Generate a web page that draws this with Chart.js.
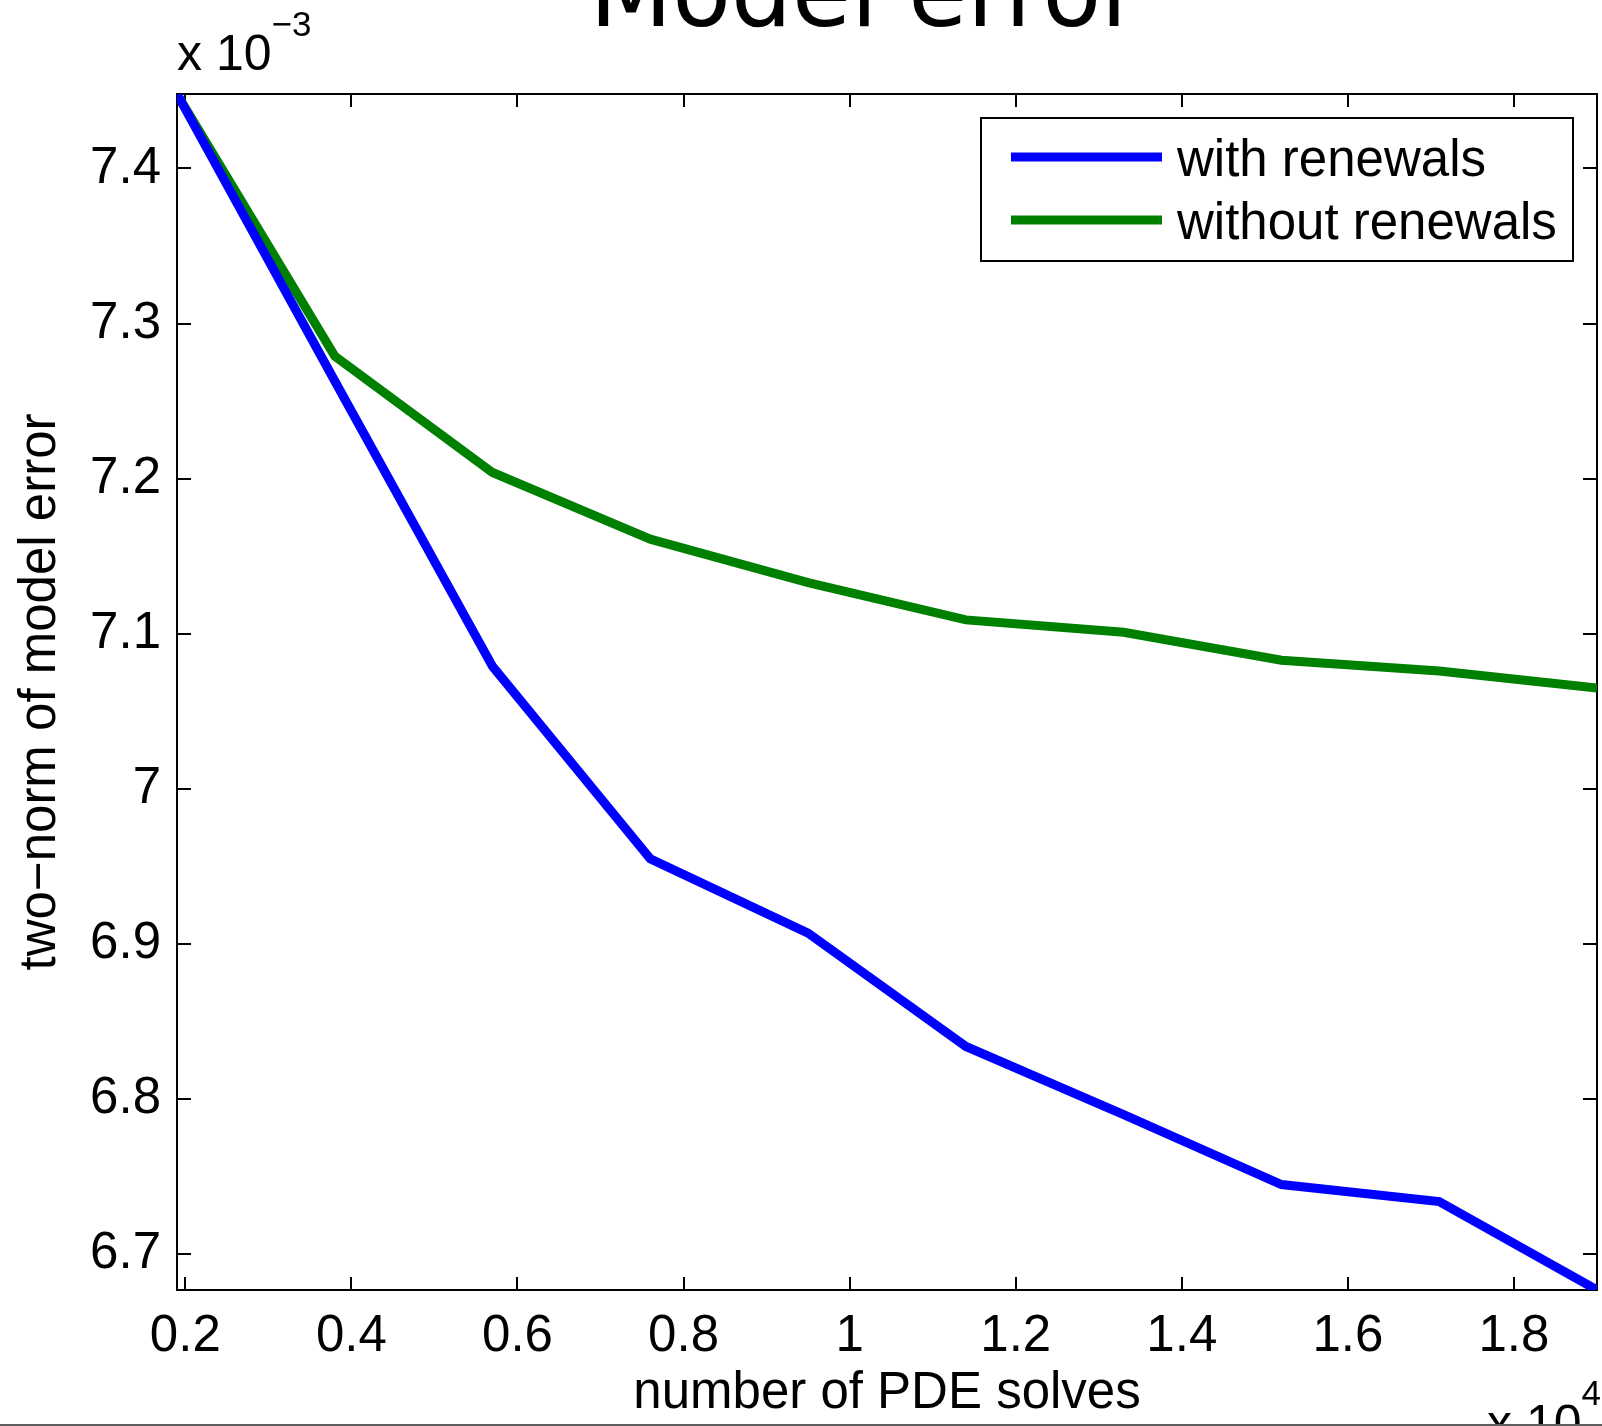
<!DOCTYPE html>
<html>
<head>
<meta charset="utf-8">
<title>Model error</title>
<script src="https://cdn.jsdelivr.net/npm/chart.js@4.4.0/dist/chart.umd.min.js"></script>
<style>
  html, body { margin: 0; padding: 0; background: #fff; overflow: hidden; }
  #wrap { width: 1602px; height: 1426px; }
</style>
</head>
<body>
<div id="wrap"><canvas id="myChart" width="1602" height="1426"></canvas></div>
<script>
// number of PDE solves, in units of 10^4
const solves = [0.19, 0.38, 0.57, 0.76, 0.95, 1.14, 1.33, 1.52, 1.71, 1.90];
// two-norm of model error, in units of 10^-3
const withRenewals = [7.448, 7.263, 7.079, 6.955, 6.907, 6.834, 6.790, 6.745, 6.734, 6.677];
const withoutRenewals = [7.448, 7.279, 7.204, 7.161, 7.133, 7.109, 7.101, 7.083, 7.076, 7.065];

const xTicks = [0.2, 0.4, 0.6, 0.8, 1, 1.2, 1.4, 1.6, 1.8];
const yTicks = [6.7, 6.8, 6.9, 7, 7.1, 7.2, 7.3, 7.4];

const seriesNames = ['with renewals', 'without renewals'];
const seriesColors = ['#0000ff', '#008000'];

const FONT = '"Liberation Sans", Arial, Helvetica, sans-serif';

function puntos(valores) {
    return solves.map((s, i) => ({ x: s, y: valores[i] }));
}

// box round the axes with inward ticks on all four sides
const marco = {
    id: 'marco',
    beforeDatasetsDraw(chart) {
        const { ctx, chartArea: a, scales: { x, y } } = chart;
        ctx.save();
        ctx.strokeStyle = '#000';
        ctx.lineWidth = 2;
        ctx.strokeRect(a.left, a.top, a.right - a.left, a.bottom - a.top);
        ctx.beginPath();
        xTicks.forEach(v => {
            const px = Math.round(x.getPixelForValue(v));
            ctx.moveTo(px, a.bottom); ctx.lineTo(px, a.bottom - 13);
            ctx.moveTo(px, a.top); ctx.lineTo(px, a.top + 13);
        });
        yTicks.forEach(v => {
            const py = Math.round(y.getPixelForValue(v));
            ctx.moveTo(a.left, py); ctx.lineTo(a.left + 14, py);
            ctx.moveTo(a.right, py); ctx.lineTo(a.right - 14, py);
        });
        ctx.stroke();
        ctx.restore();
    },
    afterDatasetsDraw(chart) {
        // legend box, top right inside the axes
        const ctx = chart.ctx;
        ctx.save();
        ctx.fillStyle = '#fff';
        ctx.fillRect(981, 118, 592, 143);
        ctx.strokeStyle = '#000';
        ctx.lineWidth = 2;
        ctx.strokeRect(981, 118, 592, 143);
        chart.data.datasets.forEach((ds, i) => {
            const yl = 157 + i * 63;
            ctx.beginPath();
            ctx.strokeStyle = ds.borderColor;
            ctx.lineWidth = 9;
            ctx.lineCap = 'butt';
            ctx.moveTo(1011, yl);
            ctx.lineTo(1162, yl);
            ctx.stroke();
            ctx.fillStyle = '#000';
            ctx.font = '51px ' + FONT;
            ctx.textBaseline = 'alphabetic';
            ctx.textAlign = 'left';
            ctx.fillText(ds.label, 1177, yl + 19);
        });
        ctx.restore();
    },
    afterDraw(chart) {
        const { ctx, chartArea: a } = chart;
        ctx.save();
        ctx.fillStyle = '#000';
        ctx.textBaseline = 'alphabetic';

        // title, mostly above the top edge
        ctx.font = '96px "DejaVu Sans", sans-serif';
        ctx.textAlign = 'center';
        ctx.fillText('Model error', 865, 26);

        // exponent of the y axis
        ctx.textAlign = 'left';
        ctx.font = '50px ' + FONT;
        ctx.fillText('x 10', a.left, 70);
        let w = ctx.measureText('x 10').width;
        ctx.font = '35px ' + FONT;
        ctx.fillText('\u22123', a.left + w, 36);

        // exponent of the x axis
        ctx.font = '50px ' + FONT;
        w = ctx.measureText('x 10').width;
        ctx.fillText('x 10', 1487, 1440);
        ctx.font = '35px ' + FONT;
        ctx.fillText('4', 1487 + w, 1405);

        // window edge at the bottom
        ctx.fillStyle = '#5e5e5e';
        ctx.fillRect(0, 1424, 1602, 2);
        ctx.restore();
    }
};

const data = {
    datasets: [
        { label: seriesNames[0], data: puntos(withRenewals), borderColor: seriesColors[0] },
        { label: seriesNames[1], data: puntos(withoutRenewals), borderColor: seriesColors[1] }
    ]
};

const config = {
    type: 'line',
    data: data,
    options: {
        responsive: false,
        animation: false,
        devicePixelRatio: 1,
        layout: { padding: { left: 0, right: 5, top: 94, bottom: 0 } },
        elements: {
            line: { borderWidth: 9, tension: 0, fill: false, borderJoinStyle: 'miter' },
            point: { radius: 0, hoverRadius: 0 }
        },
        plugins: { legend: { display: false }, tooltip: { enabled: false }, title: { display: false } },
        scales: {
            x: {
                type: 'linear',
                min: Math.min(...solves),
                max: Math.max(...solves),
                grid: { display: false, drawTicks: false },
                border: { display: false },
                afterBuildTicks: s => { s.ticks = xTicks.map(v => ({ value: v })); },
                afterFit: s => { s.height = 136; },
                ticks: {
                    color: '#000',
                    padding: 16,
                    maxRotation: 0,
                    font: { family: FONT, size: 51, lineHeight: 1.2 },
                    callback: v => String(v)
                },
                title: {
                    display: true,
                    text: 'number of PDE solves',
                    color: '#000',
                    padding: { top: 0, bottom: 1 },
                    font: { family: FONT, size: 51, lineHeight: 1.2 }
                }
            },
            y: {
                type: 'linear',
                min: Math.min(...withRenewals, ...withoutRenewals),
                max: Math.max(...withRenewals, ...withoutRenewals),
                grid: { display: false, drawTicks: false },
                border: { display: false },
                afterBuildTicks: s => { s.ticks = yTicks.map(v => ({ value: v })); },
                afterFit: s => { s.width = 177; },
                ticks: {
                    color: '#000',
                    padding: 16,
                    font: { family: FONT, size: 51, lineHeight: 1.2 },
                    callback: v => String(v)
                },
                title: {
                    display: true,
                    text: 'two\u2212norm of model error',
                    color: '#000',
                    padding: { top: 10, bottom: 0 },
                    font: { family: FONT, size: 51, lineHeight: 1.2 }
                }
            }
        }
    },
    plugins: [marco]
};

const myChart = new Chart(document.getElementById('myChart'), config);
</script>
</body>
</html>
